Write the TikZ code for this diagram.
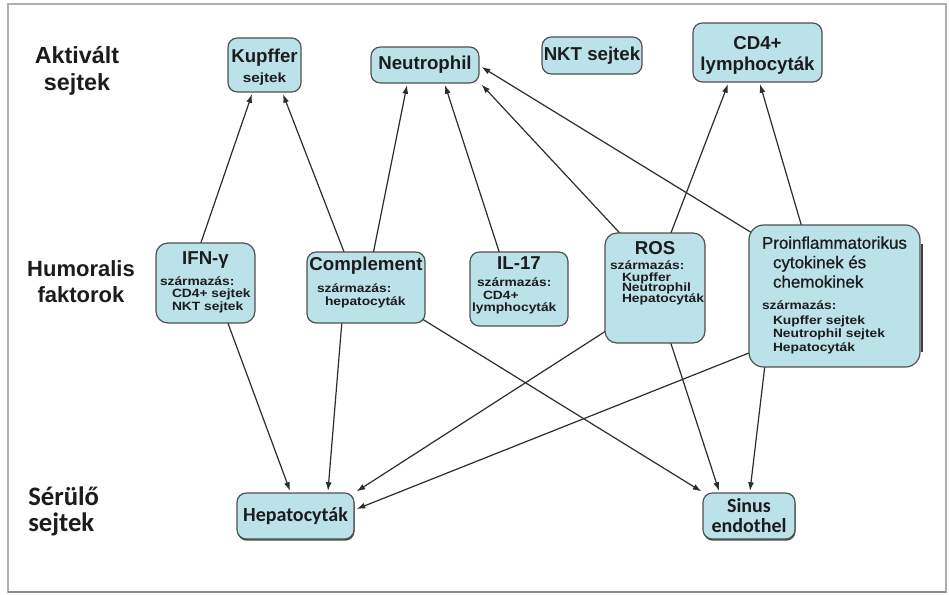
\documentclass[tikz,border=0pt]{standalone}
\usepackage{fontspec}
\setmainfont{Liberation Sans}
\newfontface\smallbold[FakeStretch=1.15]{Liberation Sans Bold}
\newfontface\medfont[FakeBold=0.7]{Liberation Sans}
\newfontfamily\calfam{Carlito}
\usetikzlibrary{arrows.meta,calc,backgrounds,shadows}

\definecolor{boxfill}{RGB}{187,226,232}
\definecolor{boxline}{RGB}{80,80,80}
\definecolor{linkcol}{RGB}{45,45,45}
\definecolor{inkcol}{RGB}{28,28,28}
\definecolor{framecol}{RGB}{175,175,175}

% font helpers
\newcommand\fsz[2]{\fontsize{#1}{#2}\selectfont}
\newcommand\ttlfont{\bfseries\fsz{14}{16pt}}
\newcommand\subfont[2]{\smallbold\fsz{#1}{#2}}
% fixed-size text block: width, height, top gap, content
\newcommand\cellbox[4]{\parbox[c][#2][t]{#1}{\lineskiplimit=-\maxdimen\lineskip=0pt\vspace*{#3}#4}}

\tikzset{
  box/.style={draw=boxline, fill=boxfill, line width=0.9pt, rounded corners=7pt,
              inner sep=0pt, text=inkcol},
  shadowed/.style={drop shadow={shadow xshift=0.4pt, shadow yshift=-1.3pt,
              fill=black!70, opacity=1}},
  wh/.style 2 args={minimum width=#1*0.75pt, minimum height=#2*0.75pt},
  lbl/.style={inner sep=0pt, text=inkcol},
  link/.style={draw=linkcol, line width=0.9pt, -{Latex[length=6.5pt,width=4.5pt]}},
}

\begin{document}
\begin{tikzpicture}[x=0.75pt, y=-0.75pt]
\useasboundingbox (0,0) rectangle (949,594);

% row labels
\node[lbl, align=center, font=\bfseries\fsz{17.5}{20.25pt}] (labA) at (77,70.5) {Aktivált\\sejtek};
\node[lbl, align=center, font=\bfseries\fsz{16.5}{19.5pt}] (labH) at (81,282) {Humoralis\\faktorok};
\node[lbl, align=left, anchor=west, font=\calfam\bfseries\fsz{20}{19.5pt}] (labS) at (28,511.5) {Sérülő\\sejtek};

% activated cells
\node[box, wh={73}{54}] (kup) at (264.5,65)
  {\cellbox{54.75pt}{40.5pt}{8pt}{\centering\ttlfont\rule{0pt}{10pt}Kupffer\par
   \subfont{10}{15pt}sejtek\par}};
\node[box, wh={108}{36}, font=\ttlfont] (neu) at (425,65) {Neutrophil};
\node[box, wh={100}{37}, font=\ttlfont] (nkt) at (592,55.5) {NKT sejtek};
\node[box, wh={129}{59}] (cd4) at (757.5,52.5)
  {\cellbox{96.75pt}{44.25pt}{9.5pt}{\centering\ttlfont\rule{0pt}{10pt}CD4+\par
   \fsz{14}{15.75pt}lymphocyták\par}};

% humoral factors
\node[box, wh={99}{80}, rounded corners=9pt] (ifn) at (205.5,283)
  {\cellbox{74.25pt}{60pt}{5.75pt}{\centering\ttlfont\rule{0pt}{10pt}IFN-γ\par
   \raggedright\subfont{9}{15.75pt}\hspace*{3pt}\mbox{származás:}\par
   \subfont{9}{9pt}\hspace*{12pt}\mbox{CD4+ sejtek}\par
   \subfont{9}{9.75pt}\hspace*{12pt}\mbox{NKT sejtek}\par}};
\node[box, wh={118}{71}] (com) at (366,287.5)
  {\cellbox{88.5pt}{53.25pt}{3.5pt}{\centering\ttlfont\rule{0pt}{10pt}Complement\par
   \raggedright\subfont{9}{16.5pt}\hspace*{7.5pt}\mbox{származás:}\par
   \subfont{9}{9.75pt}\hspace*{13.5pt}\mbox{hepatocyták}\par}};
\node[box, wh={98}{74}] (il17) at (519,289)
  {\cellbox{73.5pt}{55.5pt}{2.75pt}{\centering\ttlfont\rule{0pt}{10pt}IL-17\par
   \raggedright\subfont{9}{12.75pt}\hspace*{5.25pt}\mbox{származás:}\par
   \subfont{9}{9.75pt}\hspace*{9.75pt}\mbox{CD4+}\par
   \subfont{9}{9pt}\hspace*{1.5pt}\mbox{lymphocyták}\par}};
\node[box, wh={100}{110}, rounded corners=9pt] (ros) at (655,288)
  {\cellbox{75pt}{82.5pt}{5.75pt}{\centering\ttlfont\rule{0pt}{10pt}ROS\par
   \raggedright\subfont{9}{11.25pt}\hspace*{3.75pt}\mbox{származás:}\par
   \subfont{9}{9pt}\hspace*{12.75pt}\mbox{Kupffer}\par
   \subfont{9}{8pt}\hspace*{12.75pt}\mbox{Neutrophil}\par
   \subfont{9}{8pt}\hspace*{12.75pt}\mbox{Hepatocyták}\par}};
\node[box, wh={171}{142}, rounded corners=11pt] (pro) at (834.5,296)
  {\cellbox{128.25pt}{106.5pt}{8.6pt}{\raggedright\medfont\fsz{12.7}{14.6pt}%
   \hspace*{9.75pt}\rule{0pt}{9pt}\mbox{Proinflammatorikus}\par
   \hspace*{18pt}\mbox{cytokinek és}\par
   \hspace*{18pt}\mbox{chemokinek}\par
   \subfont{9}{16pt}\hspace*{9.75pt}\mbox{származás:}\par
   \subfont{9}{11.25pt}\hspace*{18pt}\mbox{Kupffer sejtek}\par
   \subfont{9}{10pt}\hspace*{18pt}\mbox{Neutrophil sejtek}\par
   \subfont{9}{10.5pt}\hspace*{18pt}\mbox{Hepatocyták}\par}};

% damaged cells
\node[box, shadowed, wh={117}{46}, font=\calfam\bfseries\fsz{15}{18pt}] (hep) at (295.5,516) {Hepatocyták};
\node[box, shadowed, wh={92}{46}, align=center, font=\calfam\bfseries\fsz{15}{15pt}] (sin) at (749,516) {Sinus\\endothel};

% darker right edge of the cytokine box
\draw[black!75, line width=1.4pt] ($(pro.east)+(1,-52)$) -- ($(pro.east)+(1,56)$);

\begin{scope}[on background layer]
  \fill[white] (0,0) rectangle (949,594);
  \draw[framecol, line width=0.8pt] (8,4) rectangle (946,592);
  \draw[black!45, line width=1.6pt] (8,592) -- (946,592);

  % towards the activated cells
  \draw[link] ($(ifn.north)+(-5.5,3)$) -- ($(kup.south)+(-12.5,1.5)$);
  \draw[link] ($(com.north)+(-21,3)$) -- ($(kup.south)+(18.5,1.5)$);
  \draw[link] ($(com.north)+(7,3)$) -- ($(neu.south)+(-18,1.5)$);
  \draw[link] ($(il17.north)+(-19,3)$) -- ($(neu.south)+(20,1.5)$);
  \draw[link] ($(ros.north)+(-33,3)$) -- ($(neu.south east)+(2,1)$);
  \draw[link] ($(pro.north west)+(6,10)$) -- ($(neu.east)+(2,2)$);
  \draw[link] ($(ros.north)+(15,3)$) -- ($(cd4.south)+(-29.5,1.5)$);
  \draw[link] ($(pro.north)+(-32.5,3)$) -- ($(cd4.south)+(2.5,1.5)$);

  % towards the damaged cells
  \draw[link] ($(ifn.south)+(21.5,-3)$) -- ($(hep.north)+(-5.5,-1.5)$);
  \draw[link] ($(com.south)+(-24,-3)$) -- ($(hep.north)+(32.5,-1.5)$);
  \draw[link] ($(ros.west)+(3,42)$) -- ($(hep.north east)+(2,-1)$);
  \draw[link] ($(pro.west)+(3,56)$) -- ($(hep.east)+(2,-7)$);
  \draw[link] ($(com.south east)+(-4,-5)$) -- ($(sin.north west)+(-1,-1)$);
  \draw[link] ($(ros.south)+(15,-3)$) -- ($(sin.north)+(-30,-1.5)$);
  \draw[link] ($(pro.south)+(-69.5,-3)$) -- ($(sin.north)+(1,-1.5)$);
\end{scope}
\end{tikzpicture}
\end{document}
